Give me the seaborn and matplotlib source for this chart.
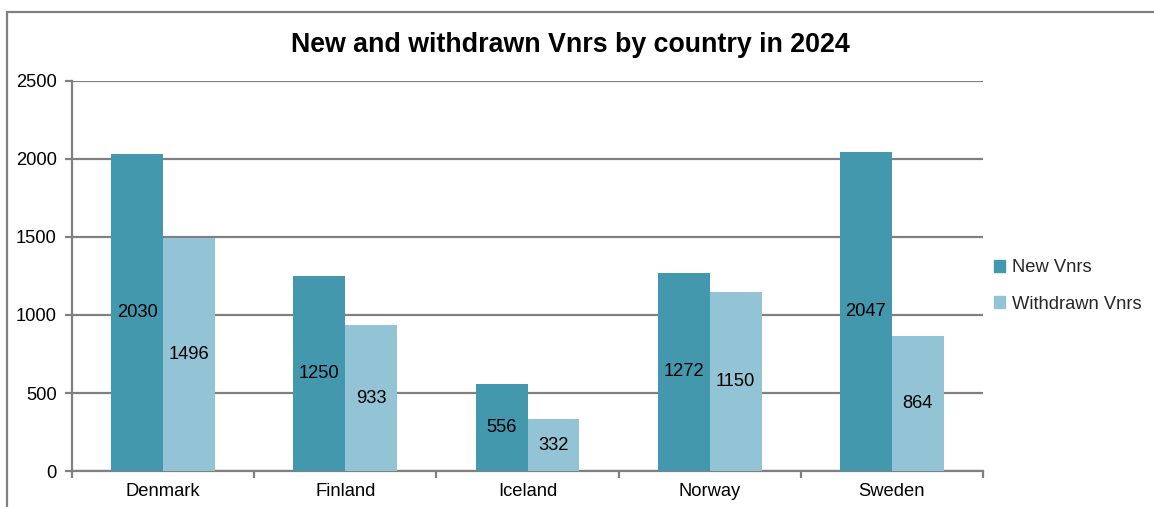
import matplotlib
matplotlib.use("Agg")
import matplotlib.pyplot as plt
from matplotlib.patches import Rectangle
from matplotlib.ticker import FixedLocator, MultipleLocator
import seaborn as sns
import pandas as pd

countries = ["Denmark", "Finland", "Iceland", "Norway", "Sweden"]
new_vnrs = [2030, 1250, 556, 1272, 2047]
withdrawn_vnrs = [1496, 933, 332, 1150, 864]
series_names = ["New Vnrs", "Withdrawn Vnrs"]
colors = ["#4398AE", "#93C4D6"]
title = "New and withdrawn Vnrs by country in 2024"

df = pd.DataFrame({
    "country": countries * 2,
    "value": new_vnrs + withdrawn_vnrs,
    "series": [series_names[0]] * len(countries) + [series_names[1]] * len(countries),
})

sns.set_theme(style="white")
plt.rcParams["font.family"] = ["Liberation Sans", "DejaVu Sans"]

FS = 13.2
fig = plt.figure(figsize=(11.54, 5.07), dpi=100)
ax = fig.add_axes([72 / 1154, 1 - 471 / 507, (983 - 72) / 1154, (471 - 81) / 507])

sns.barplot(data=df, x="country", y="value", hue="series", palette=colors,
            width=0.57, saturation=1, ax=ax, legend=False, zorder=3, linewidth=0)

for cont in ax.containers:
    ax.bar_label(cont, label_type="center", fontsize=FS, color="black")

ax.set_ylim(0, 2500)
ax.set_xlim(-0.5, len(countries) - 0.5)
ax.yaxis.set_major_locator(MultipleLocator(500))
ax.grid(axis="y", color="#808080", linewidth=1.6, zorder=0)
ax.set_axisbelow(True)
ax.set_xlabel("")
ax.set_ylabel("")

for s in ["top", "right"]:
    ax.spines[s].set_visible(False)
for s in ["left", "bottom"]:
    ax.spines[s].set_color("#808080")
    ax.spines[s].set_linewidth(1.6)

ax.tick_params(axis="y", which="major", left=True, length=5, width=1.6, color="#808080",
               labelsize=FS, labelcolor="black", pad=6)
ax.tick_params(axis="x", which="major", bottom=False, length=0, labelsize=FS,
               labelcolor="black", pad=9)
ax.xaxis.set_minor_locator(FixedLocator([i - 0.5 for i in range(len(countries) + 1)]))
ax.tick_params(axis="x", which="minor", bottom=True, length=5, width=1.6, color="#808080")

fig.text(570 / 1154, 1 - 45 / 507, title, ha="center", va="center",
         fontsize=19.3, fontweight="bold", color="black")

handles = [Rectangle((0, 0), 1, 1, color=c) for c in colors]
fig.legend(handles, series_names, loc="center left", bbox_to_anchor=(977 / 1154, 1 - 286 / 507),
           frameon=False, fontsize=FS, handlelength=0.6, handleheight=0.6,
           handletextpad=0.4, labelspacing=1.05)

top = 1 - 12 / 507
fig.patches.append(Rectangle((7 / 1154, -0.2), 1.2, top + 0.2, transform=fig.transFigure,
                             fill=False, edgecolor="#808080", linewidth=1.6, figure=fig))

fig.savefig("out.png", dpi=100)
